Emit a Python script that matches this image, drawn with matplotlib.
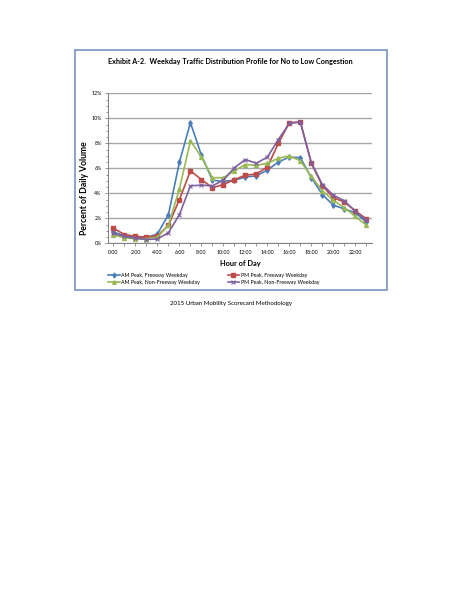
import numpy as np
import matplotlib
matplotlib.use('Agg')
import matplotlib.pyplot as plt
from matplotlib.patches import Rectangle
from matplotlib.ticker import MultipleLocator, FuncFormatter

plt.rcParams['font.family'] = ['Lato', 'DejaVu Sans']

hours = list(range(24))
am_fwy = [0.9, 0.6, 0.45, 0.45, 0.75, 2.3, 6.5, 9.65, 7.05, 5.05, 4.95, 5.05,
          5.3, 5.4, 5.85, 6.5, 6.9, 6.85, 5.25, 3.9, 3.05, 2.75, 2.45, 1.7]
pm_fwy = [1.2, 0.7, 0.55, 0.5, 0.6, 1.45, 3.5, 5.8, 5.1, 4.45, 4.7, 5.1,
          5.45, 5.55, 6.1, 8.0, 9.65, 9.7, 6.4, 4.6, 3.65, 3.3, 2.6, 1.95]
am_nonfwy = [0.65, 0.45, 0.35, 0.35, 0.5, 1.45, 4.35, 8.2, 6.9, 5.25, 5.25, 5.8,
             6.3, 6.25, 6.4, 6.8, 7.0, 6.6, 5.35, 4.2, 3.45, 2.85, 2.15, 1.45]
pm_nonfwy = [0.8, 0.55, 0.4, 0.3, 0.35, 0.85, 2.3, 4.6, 4.65, 4.6, 5.05, 6.05,
             6.7, 6.4, 6.9, 8.3, 9.6, 9.7, 6.45, 4.7, 3.85, 3.4, 2.55, 1.85]

W, H = 463, 599
fig = plt.figure(figsize=(W / 100, H / 100), dpi=100)

# chart frame
fig.patches.append(Rectangle((74.5 / W, 1 - 289.5 / H), 312 / W, 240 / H,
                             transform=fig.transFigure, fill=False,
                             edgecolor='#7f9cc6', lw=1.3))

ax = fig.add_axes([108 / W, 1 - 243.3 / H, 263.8 / W, 150 / H])

l1, = ax.plot(hours, am_fwy, color='#4a7ebb', marker='d', ms=2.8, lw=1.2, label='AM Peak, Freeway Weekday')
l2, = ax.plot(hours, pm_fwy, color='#be4b48', marker='s', ms=2.6, lw=1.2, label='PM Peak, Freeway Weekday')
l3, = ax.plot(hours, am_nonfwy, color='#98b954', marker='^', ms=2.8, lw=1.2, label='AM Peak, Non-Freeway Weekday')
l4, = ax.plot(hours, pm_nonfwy, color='#7d60a0', marker='x', ms=2.8, mew=0.8, lw=1.2, label='PM Peak, Non-Freeway Weekday')

ax.set_xlim(-0.5, 23.5)
ax.set_ylim(0, 12)
ax.xaxis.set_major_locator(MultipleLocator(2))
ax.xaxis.set_minor_locator(MultipleLocator(1))
ax.yaxis.set_major_locator(MultipleLocator(2))
ax.yaxis.set_minor_locator(MultipleLocator(0.5))
ax.xaxis.set_major_formatter(FuncFormatter(lambda v, p: '%d:00' % v))
ax.yaxis.set_major_formatter(FuncFormatter(lambda v, p: '%d%%' % v))
ax.tick_params(axis='both', which='both', labelsize=3.8, color='#808080', width=0.6, pad=2)
ax.tick_params(axis='x', which='major', length=2.5)
ax.tick_params(axis='x', which='minor', length=2)
ax.tick_params(axis='y', which='major', length=2.5)
ax.tick_params(axis='y', which='minor', length=1.5)
ax.grid(axis='y', which='major', color='#a6a6a6', lw=1.0)
ax.set_axisbelow(True)
for s in ['top', 'right']:
    ax.spines[s].set_visible(False)
for s in ['left', 'bottom']:
    ax.spines[s].set_color('#808080')
    ax.spines[s].set_linewidth(0.7)

ax.set_ylabel('Percent of Daily Volume', fontsize=6.2, fontweight='bold')
ax.yaxis.set_label_coords(-0.072, 0.369)
ax.set_xlabel('Hour of Day', fontsize=5.3, fontweight='bold', labelpad=4)

fig.text(230 / W, 1 - 61.5 / H,
         'Exhibit A-2.  Weekday Traffic Distribution Profile for No to Low Congestion',
         ha='center', va='center', fontsize=5.2, fontweight='bold')

fig.legend(handles=[l1, l3, l2, l4], loc='upper left',
           bbox_to_anchor=(108 / W, 1 - 272.5 / H), ncol=2,
           fontsize=3.8, frameon=False, handlelength=2.2, handletextpad=0.3,
           columnspacing=5.2, labelspacing=0.45, borderaxespad=0, borderpad=0,
           markerscale=0.9)

fig.text(231 / W, 1 - 304 / H, '2015 Urban Mobility Scorecard Methodology',
         ha='center', va='center', fontsize=4.4)

fig.savefig('out.png', dpi=100)
